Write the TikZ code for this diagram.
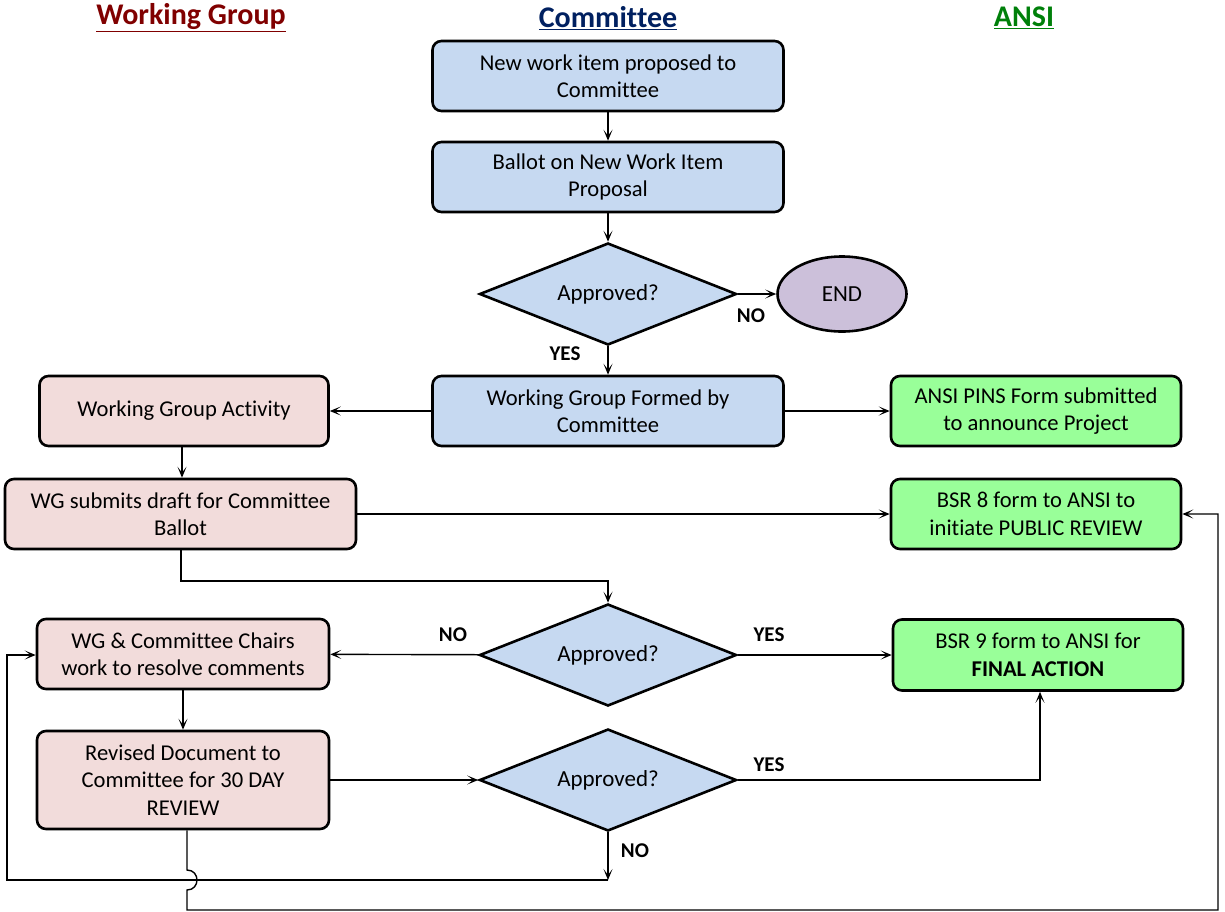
\documentclass[tikz,border=0pt]{standalone}
\usepackage{fontspec}
\setmainfont[Ligatures=NoCommon]{Carlito}
\usetikzlibrary{arrows.meta,shapes.geometric}
\definecolor{bluefill}{HTML}{C6D9F1}
\definecolor{pinkfill}{HTML}{F2DCDB}
\definecolor{greenfill}{HTML}{99FF99}
\definecolor{endfill}{HTML}{CCC0DA}
\definecolor{wgcol}{HTML}{800000}
\definecolor{comcol}{HTML}{002060}
\definecolor{ansicol}{HTML}{00800A}
\newcommand{\hdul}[1]{\underline{#1}}
\tikzset{
  box/.style={draw=black,line width=2.6pt,rounded corners=9pt,align=center,
    minimum width=#1,inner sep=2pt,font=\fontsize{22.6}{27.5}\selectfont},
  box/.default=351pt,
  bbox/.style={box,fill=bluefill,minimum height=70pt},
  pbox/.style={box,fill=pinkfill,minimum height=70pt},
  gbox/.style={box,fill=greenfill,minimum height=70pt},
  dec/.style={diamond,draw=black,line width=2.6pt,fill=bluefill,aspect=2.52,
    minimum width=257pt,minimum height=102pt,inner sep=0pt,font=\fontsize{23}{27}\selectfont},
  conn/.style={line width=1.4pt,-{Stealth[length=11pt,width=9pt,inset=6pt]}},
  lab/.style={font=\bfseries\fontsize{21}{25}\selectfont},
  head/.style={font=\bfseries\fontsize{30}{34}\selectfont}
}
\begin{document}
\begin{tikzpicture}[x=1pt,y=-1pt]
\useasboundingbox (0,0) rectangle (1225,911);
% headers
\node[head,text=wgcol] (h1) at (191,18) {\hdul{Working Group}};
\node[head,text=comcol] (h2) at (608,18) {\hdul{Committee}};
\node[head,text=ansicol] (h3) at (1024,18) {\hdul{ANSI}};
% nodes
\node[bbox] (n1) at (608,76) {New work item proposed to\\Committee};
\node[bbox] (n2) at (608,177) {Ballot on New Work Item\\Proposal};
\node[dec] (d1) at (608,294) {Approved?};
\node[ellipse,draw=black,line width=2.6pt,fill=endfill,minimum width=129pt,minimum height=75pt,
  font=\fontsize{23}{27}\selectfont] (end) at (842,294) {END};
\node[bbox] (wgf) at (608,411) {Working Group Formed by\\Committee};
\node[pbox,minimum width=289pt] (wga) at (184,411) {Working Group Activity};
\node[gbox,minimum width=290pt] (pins) at (1036,411) {ANSI PINS Form submitted\\to announce Project};
\node[pbox,minimum width=351pt] (wgs) at (180.5,514) {WG submits draft for Committee\\Ballot};
\node[gbox,minimum width=290pt] (bsr8) at (1036,514) {BSR 8 form to ANSI to\\initiate PUBLIC REVIEW};
\node[dec] (d2) at (608,655) {Approved?};
\node[pbox,minimum width=292pt] (chairs) at (183,654) {WG \& Committee Chairs\\work to resolve comments};
\node[gbox,minimum width=290pt,minimum height=71pt] (bsr9) at (1038,655) {BSR 9 form to ANSI for\\\textbf{FINAL ACTION}};
\node[pbox,minimum width=292pt,minimum height=98pt] (rev) at (183,780) {Revised Document to\\Committee for 30 DAY\\REVIEW};
\node[dec] (d3) at (608,780) {Approved?};
% coordinates
\coordinate (c1) at (181,581);
\coordinate (c2) at (608,581);
\coordinate (c3) at (1040,780);
\coordinate (c4) at (608,880);
\coordinate (c5) at (7,880);
\coordinate (c6) at (7,655);
\coordinate (c7) at (187,910);
\coordinate (c8) at (1218,910);
\coordinate (c9) at (1218,514);
\coordinate (j1) at (187,870);
\coordinate (j2) at (187,890);
% connectors
\draw[conn] (n1) -- (n2);
\draw[conn] (n2) -- (d1);
\draw[conn] (d1) -- (end);
\draw[conn] (d1) -- (wgf);
\draw[conn] (wgf) -- (wga);
\draw[conn] (wgf) -- (pins);
\draw[conn] (wga.south -| 182,0) -- (wgs.north -| 182,0);
\draw[conn] (wgs) -- (bsr8);
\draw[conn] (wgs.south -| c1) -- (c1) -- (c2) -- (d2.north);
\draw[conn] (d2) -- (chairs);
\draw[conn] (d2) -- (bsr9);
\draw[conn] (chairs) -- (rev);
\draw[conn] (rev) -- (d3);
\draw[conn] (d3.east) -- (c3) -- (bsr9.south -| c3);
\draw[conn] (d3.south) -- (c4);
\draw[conn] (c4) -- (c5) -- (c6) -- (chairs.west |- c6);
\draw[conn] (rev.south -| c7) -- (j1) .. controls +(13.3,0) and +(13.3,0) .. (j2) -- (c7) -- (c8) -- (c9) -- (bsr8.east);
% labels
\node[lab] (l1) at (751,316) {NO};
\node[lab] (l2) at (565,354) {YES};
\node[lab] (l3) at (453,635) {NO};
\node[lab] (l4) at (769,635) {YES};
\node[lab] (l5) at (769,765) {YES};
\node[lab] (l6) at (635,851) {NO};
\end{tikzpicture}
\end{document}
